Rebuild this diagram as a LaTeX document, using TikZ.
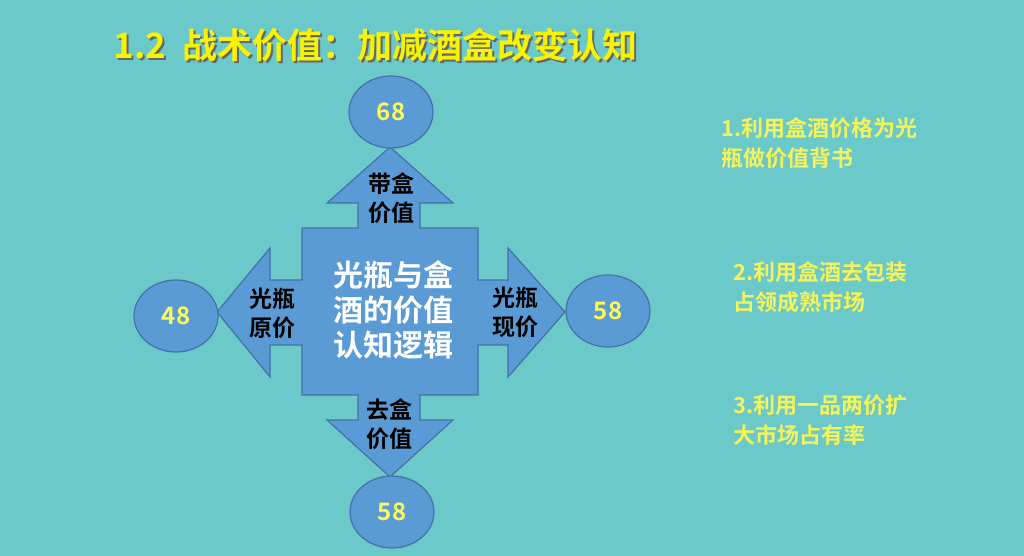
\documentclass[tikz,border=0pt]{standalone}
\usepackage{fontspec}
\usetikzlibrary{shapes.geometric}
\newfontfamily\cjk{Noto Sans CJK SC Bold}
\begin{document}
\begin{tikzpicture}[x=1pt,y=-1pt,
  shp/.style={fill=shpblue,draw=shpedge,line width=1.2pt},
  circ/.style={shp,ellipse,minimum width=84pt,minimum height=72pt,inner sep=0pt,text=numyellow,font=\cjk\fontsize{24}{24}\selectfont},
  lbl/.style={align=center,font=\cjk\fontsize{23}{29}\selectfont,text=black},
  side/.style={anchor=west,align=left,text=txtyellow,font=\cjk\fontsize{22}{30}\selectfont}]
\definecolor{bg}{HTML}{6CC9CA}
\definecolor{shpblue}{HTML}{5B9BD5}
\definecolor{shpedge}{HTML}{4172A8}
\definecolor{numyellow}{HTML}{FFFF55}
\definecolor{txtyellow}{HTML}{F4F45A}
\definecolor{ttl}{HTML}{F8F400}
\useasboundingbox (0,0) rectangle (1024,556);
\fill[bg] (0,0) rectangle (1024,556);
% title
\node[anchor=west,text=black!60,font=\cjk\fontsize{35}{35}\selectfont] at (112,47) {1.2\ \ 战术价值：加减酒盒改变认知};
\node[anchor=west,text=ttl,font=\cjk\fontsize{35}{35}\selectfont] (title) at (110,45) {1.2\ \ 战术价值：加减酒盒改变认知};
% cross
\draw[shp] (302,228) -- (358,228) -- (358,203) -- (327,203) -- (390,147) -- (453,203) -- (420,203) -- (420,228)
 -- (478,228) -- (478,280) -- (508,280) -- (508,248) -- (565,312) -- (508,377) -- (508,345) -- (478,345) -- (478,395)
 -- (420,395) -- (420,420) -- (453,420) -- (390,477) -- (327,420) -- (358,420) -- (358,395) -- (302,395)
 -- (302,345) -- (270,345) -- (270,377) -- (217,312) -- (270,248) -- (270,280) -- (302,280) -- cycle;
\node[align=center,text=white,font=\cjk\fontsize{30}{35}\selectfont] (center) at (393,310) {光瓶与盒\\酒的价值\\认知逻辑};
% circles
\node[circ] (top) at (391,112) {68};
\node[circ] (left) at (176,316) {48};
\node[circ] (right) at (608,311) {58};
\node[circ] (bottom) at (392,512) {58};
% labels
\node[lbl] (lt) at (391,198) {带盒\\价值};
\node[lbl] (ll) at (272,313) {光瓶\\原价};
\node[lbl] (lr) at (515,312) {光瓶\\现价};
\node[lbl] (lb) at (389,424) {去盒\\价值};
% side texts
\node[side] (s1) at (718,143) {1.利用盒酒价格为光\\瓶做价值背书};
\node[side] (s2) at (730,287) {2.利用盒酒去包装\\占领成熟市场};
\node[side] (s3) at (730,420) {3.利用一品两价扩\\大市场占有率};
\end{tikzpicture}
\end{document}
